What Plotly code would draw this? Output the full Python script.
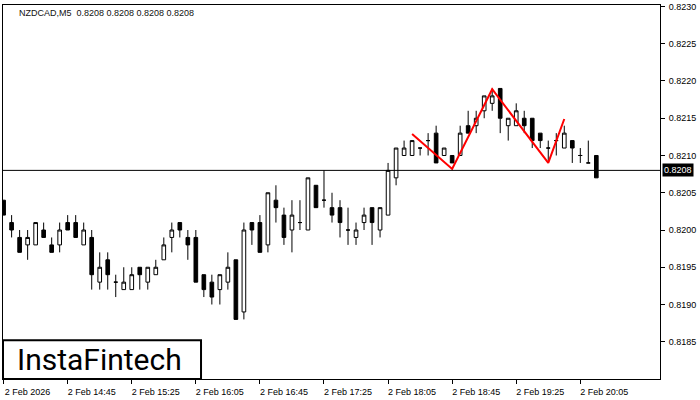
import plotly.graph_objects as go

# candle index 0 = 2 Feb 14:05, 5-minute bars
opens = [0.8204, 0.8201, 0.8199, 0.8198, 0.8198, 0.8200, 0.8198, 0.8198, 0.8201, 0.8201,
         0.8198, 0.8199, 0.8193, 0.8196, 0.8193, 0.8192, 0.8192, 0.8195, 0.8193, 0.8194,
         0.8196, 0.8199, 0.8201, 0.8199, 0.8199, 0.8194, 0.8193, 0.8192, 0.8193, 0.8196,
         0.8189, 0.8201, 0.8201, 0.8198, 0.8204, 0.8202, 0.8200, 0.8201, 0.8200, 0.8206,
         0.8204, 0.8203, 0.8203, 0.8200, 0.8199, 0.8201, 0.8203, 0.8200, 0.8202, 0.8207,
         0.8210, 0.8210, 0.8211, 0.8212, 0.8213, 0.8210, 0.8210, 0.8210, 0.8214, 0.8214,
         0.8216, 0.8217, 0.8219, 0.8214, 0.8214, 0.8215, 0.8215, 0.8213, 0.8211, 0.8212,
         0.8211, 0.8212, 0.8210, 0.8209, 0.8210]
highs = [0.8204, 0.8202, 0.8200, 0.8200, 0.8201, 0.8201, 0.8199, 0.8201, 0.8202, 0.8202,
         0.8201, 0.8200, 0.8197, 0.8197, 0.8194, 0.8195, 0.8195, 0.8195, 0.8195, 0.8196,
         0.8199, 0.8201, 0.8201, 0.8200, 0.8200, 0.8194, 0.8194, 0.8194, 0.8197, 0.8196,
         0.8201, 0.8201, 0.8202, 0.8205, 0.8206, 0.8203, 0.8204, 0.8204, 0.8207, 0.8206,
         0.8208, 0.8205, 0.8204, 0.8203, 0.8201, 0.8203, 0.8203, 0.8203, 0.8209, 0.8211,
         0.8212, 0.8212, 0.8211, 0.8213, 0.8214, 0.8211, 0.8210, 0.8214, 0.8216, 0.8216,
         0.8218, 0.8219, 0.8219, 0.8215, 0.8217, 0.8216, 0.8215, 0.8213, 0.8212, 0.8213,
         0.8214, 0.8212, 0.8211, 0.8212, 0.8210]
lows = [0.8202, 0.8199, 0.8197, 0.8196, 0.8198, 0.8199, 0.8197, 0.8197, 0.8200, 0.8199,
        0.8198, 0.8192, 0.8192, 0.8192, 0.8191, 0.8192, 0.8192, 0.8192, 0.8192, 0.8194,
        0.8196, 0.8197, 0.8199, 0.8196, 0.8193, 0.8191, 0.8190, 0.8190, 0.8192, 0.8188,
        0.8188, 0.8198, 0.8197, 0.8197, 0.8201, 0.8198, 0.8197, 0.8200, 0.8200, 0.8203,
        0.8203, 0.8201, 0.8199, 0.8198, 0.8198, 0.8200, 0.8198, 0.8199, 0.8202, 0.8206,
        0.8210, 0.8210, 0.8210, 0.8210, 0.8209, 0.8210, 0.8209, 0.8210, 0.8213, 0.8213,
        0.8215, 0.8216, 0.8213, 0.8212, 0.8214, 0.8213, 0.8211, 0.8211, 0.8209, 0.8210,
        0.8211, 0.8209, 0.8209, 0.8209, 0.8207]
closes = [0.8202, 0.8200, 0.8197, 0.8199, 0.8201, 0.8199, 0.8197, 0.8200, 0.8200, 0.8199,
          0.8200, 0.8194, 0.8195, 0.8194, 0.8193, 0.8193, 0.8194, 0.8194, 0.8195, 0.8195,
          0.8198, 0.8200, 0.8200, 0.8198, 0.8193, 0.8192, 0.8191, 0.8194, 0.8195, 0.8188,
          0.8200, 0.8200, 0.8197, 0.8205, 0.8203, 0.8199, 0.8202, 0.8201, 0.8207, 0.8203,
          0.8204, 0.8202, 0.8201, 0.8200, 0.8200, 0.8202, 0.8201, 0.8203, 0.8208, 0.8211,
          0.8211, 0.8212, 0.8211, 0.8212, 0.8209, 0.8211, 0.8209, 0.8213, 0.8213, 0.8215,
          0.8218, 0.8218, 0.8215, 0.8215, 0.8216, 0.8214, 0.8212, 0.8212, 0.8211, 0.8212,
          0.8213, 0.8211, 0.8210, 0.8209, 0.8207]

tick_index = [0, 8, 16, 24, 32, 40, 48, 56, 64, 72]
tick_labels = ["2 Feb 2026", "2 Feb 14:45", "2 Feb 15:25", "2 Feb 16:05", "2 Feb 16:45",
               "2 Feb 17:25", "2 Feb 18:05", "2 Feb 18:45", "2 Feb 19:25", "2 Feb 20:05"]
price_ticks = [0.8185, 0.8190, 0.8195, 0.8200, 0.8205, 0.8210, 0.8215, 0.8220, 0.8225, 0.8230]

pattern_index = [51, 56, 61, 68, 70]
pattern_price = [0.82129, 0.82082, 0.82189, 0.82090, 0.82149]

current_price = 0.8208
title_text = "NZDCAD,M5  0.8208 0.8208 0.8208 0.8208"
logo_text = "InstaFintech"

idx = list(range(len(opens)))
FONT = "Liberation Sans"

fig = go.Figure()
fig.add_trace(go.Candlestick(
    x=idx, open=opens, high=highs, low=lows, close=closes,
    increasing=dict(line=dict(color="black", width=1), fillcolor="white"),
    decreasing=dict(line=dict(color="black", width=1), fillcolor="black"),
    whiskerwidth=0, showlegend=False, hoverinfo="skip"))
fig.add_trace(go.Scatter(
    x=pattern_index, y=pattern_price, mode="lines",
    line=dict(color="#ff0000", width=2), showlegend=False, hoverinfo="skip"))

fig.add_shape(type="line", xref="paper", yref="y", x0=0, x1=1,
              y0=current_price, y1=current_price, line=dict(color="black", width=1))
fig.add_annotation(xref="paper", yref="y", x=1.003, y=current_price, xanchor="left",
                   yanchor="middle", text=f"{current_price:.4f}", showarrow=False,
                   bgcolor="black", font=dict(color="white", size=9, family=FONT),
                   borderpad=1)
fig.add_annotation(xref="paper", yref="paper", x=0.0213, y=0.979, xanchor="left",
                   yanchor="middle", text=title_text, showarrow=False,
                   font=dict(color="#111111", size=9, family=FONT))
fig.add_shape(type="rect", xref="paper", yref="paper", x0=0, x1=0.3014, y0=0, y1=0.1034,
              line=dict(color="black", width=2), fillcolor="white")
fig.add_annotation(xref="paper", yref="paper", x=0.1475, y=0.052, xanchor="center",
                   yanchor="middle", text=logo_text, showarrow=False,
                   font=dict(color="black", size=30, family="Roboto"))

fig.update_layout(
    width=700, height=400,
    margin=dict(l=3, r=40, t=2, b=21),
    paper_bgcolor="white", plot_bgcolor="white",
    boxgap=0.35,
    xaxis=dict(range=[-0.075, 81.95], rangeslider=dict(visible=False),
               tickvals=tick_index, ticktext=tick_labels, ticks="outside", ticklen=4,
               tickcolor="black", showgrid=False, zeroline=False, showline=True,
               linecolor="black", linewidth=1, mirror=True,
               tickfont=dict(size=9, family=FONT, color="black"), ticklabelshift=24,
               ticklabelstandoff=0, ticklabeloverflow="allow"),
    yaxis=dict(range=[0.81800, 0.82302], side="right", tickvals=price_ticks,
               tickformat=".4f", ticks="outside", ticklen=4, tickcolor="black",
               showgrid=False, zeroline=False, showline=True, linecolor="black",
               linewidth=1, mirror=True,
               tickfont=dict(size=9, family=FONT, color="black"), ticklabelstandoff=2,
               ticklabeloverflow="allow"),
)

fig.write_html("out.html", config={"displayModeBar": False},
               post_script="document.body.style.margin='0';")
